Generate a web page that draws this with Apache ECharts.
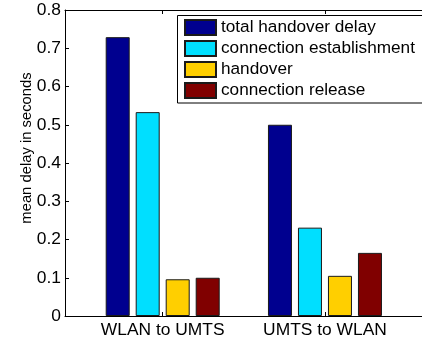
<!DOCTYPE html>
<html>
<head>
<meta charset="utf-8">
<script src="https://cdn.jsdelivr.net/npm/echarts@6/dist/echarts.min.js"></script>
<style>html,body{margin:0;padding:0;background:#fff}#c{width:422px;height:340px}</style>
</head>
<body>
<div id="c"></div>
<script>
var categories = ['WLAN to UMTS', 'UMTS to WLAN'];
var seriesNames = ['total handover delay', 'connection establishment', 'handover', 'connection release'];
var totalDelay = [0.729, 0.500];
var connEstablish = [0.533, 0.231];
var handoverVals = [0.096, 0.105];
var connRelease = [0.100, 0.165];
var yTicks = [0, 0.1, 0.2, 0.3, 0.4, 0.5, 0.6, 0.7, 0.8];
var yAxisTitle = 'mean delay in seconds';
var colors = ['#00008F', '#00DFFF', '#FFCF00', '#800000'];

var allVals = [totalDelay, connEstablish, handoverVals, connRelease];
var FONT = 'Liberation Sans, Arial, Helvetica, sans-serif';
var chart = echarts.init(document.getElementById('c'), null, {renderer: 'canvas'});
var xMin = 0.398, xMax = 0.398 + 363 / 165;

var series = seriesNames.map(function (n, i) {
  return {
    name: n,
    type: 'bar',
    barWidth: 24,
    barGap: '25%',
    itemStyle: {color: colors[i], borderColor: '#1a1a1a', borderWidth: 1},
    data: allVals[i].map(function (v, k) { return [k + 1, v]; })
  };
});

chart.setOption({
  animation: false,
  backgroundColor: '#fff',
  textStyle: {fontFamily: FONT},
  grid: {left: 65, top: 10, width: 363, height: 306, containLabel: false},
  graphic: [{
    type: 'text', x: 27, y: 148, rotation: Math.PI / 2,
    style: {text: yAxisTitle, fontSize: 14.8, fontFamily: FONT, fill: '#000',
      textAlign: 'center', textVerticalAlign: 'middle'}
  }, {
    type: 'rect', z: 3,
    shape: {x: 177.5, y: 15.5, width: 270, height: 87.5},
    style: {fill: '#fff', stroke: '#000', lineWidth: 1}
  }],
  legend: {
    z: 10,
    orient: 'vertical',
    left: 177, top: 16,
    padding: [3, 4, 4, 7],
    itemWidth: 31, itemHeight: 15, itemGap: 4,
    icon: 'rect',
    textStyle: {fontFamily: FONT, fontSize: 17.2, color: '#000'},
    data: seriesNames
  },
  xAxis: [{
    type: 'value', min: xMin, max: xMax, position: 'bottom',
    axisLine: {show: true, lineStyle: {color: '#000', width: 1}},
    axisTick: {show: true, inside: true, length: 4, customValues: [1, 2], lineStyle: {color: '#000'}},
    axisLabel: {show: true, customValues: [1, 2], margin: 6, fontSize: 17.4, color: '#000', fontFamily: FONT,
      formatter: function (v) { return categories[Math.round(v) - 1] || ''; }},
    splitLine: {show: false}
  }, {
    type: 'value', min: xMin, max: xMax, position: 'top',
    axisLine: {show: true, lineStyle: {color: '#000', width: 1}},
    axisTick: {show: true, inside: true, length: 4, customValues: [1, 2], lineStyle: {color: '#000'}},
    axisLabel: {show: false},
    splitLine: {show: false}
  }],
  yAxis: {
    type: 'value', min: yTicks[0], max: yTicks[yTicks.length - 1], interval: 0.1,
    axisLine: {show: true, lineStyle: {color: '#000', width: 1}},
    axisTick: {show: true, inside: true, length: 4, lineStyle: {color: '#000'}},
    axisLabel: {margin: 4, fontSize: 17.4, color: '#000', fontFamily: FONT,
      formatter: function (v) { return v === 0 ? '0' : v.toFixed(1); }},
    splitLine: {show: false}
  },
  series: series
});
</script>
</body>
</html>
